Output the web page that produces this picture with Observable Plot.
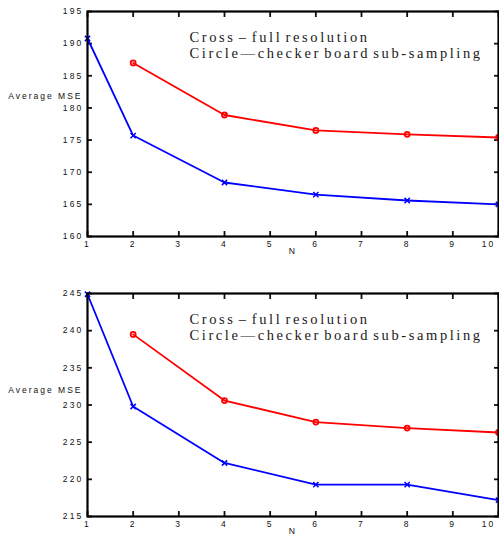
<!DOCTYPE html>
<html>
<head>
<meta charset="utf-8">
<script src="https://cdn.jsdelivr.net/npm/d3@7"></script>
<script src="https://cdn.jsdelivr.net/npm/@observablehq/plot@0.6"></script>
<style>
  html, body { margin: 0; padding: 0; background: white; }
  #chart svg { display: block; }
</style>
</head>
<body>
<div id="chart"></div>
<script>
// Data
const nCross = [1, 2, 4, 6, 8, 10];
const nCircle = [2, 4, 6, 8, 10];
const topCross = [190.8, 175.7, 168.4, 166.5, 165.6, 165.0];
const topCircle = [187.0, 178.9, 176.5, 175.9, 175.4];
const botCross = [244.9, 229.8, 222.2, 219.3, 219.3, 217.2];
const botCircle = [239.5, 230.6, 227.7, 226.9, 226.3];
const xTicks = [1, 2, 3, 4, 5, 6, 7, 8, 9, 10];
const topYTicks = [160, 165, 170, 175, 180, 185, 190, 195];
const botYTicks = [215, 220, 225, 230, 235, 240, 245];
const legendLines = ["Cross \u2013 full resolution", "Circle\u2014checker board sub-sampling"];
const yLabel = "Average MSE";
const xLabel = "N";

function panel({height, marginTop, marginBottom, yDomain, yTicks, cross, circle, yLabelDy}) {
  const crossData = nCross.map((n, i) => ({n, v: cross[i]}));
  const circleData = nCircle.map((n, i) => ({n, v: circle[i]}));
  const legendFont = {fontFamily: "Liberation Serif, Times New Roman, serif", fontSize: 14.5, fill: "#1a1a1a", textAnchor: "start", lineAnchor: "middle", frameAnchor: "top-left", className: "legend-text"};
  const svg = Plot.plot({
    width: 499, height, marginLeft: 87, marginRight: 1, marginTop, marginBottom,
    style: {fontFamily: "Liberation Sans, Arial, sans-serif", fontSize: "8.5px", background: "white", color: "#111", overflow: "visible"},
    x: {domain: [1, 10]},
    y: {domain: yDomain},
    marks: [
      Plot.axisX({ticks: xTicks, tickSize: -5, tickPadding: 9, label: null, tickFormat: d => String(d), strokeWidth: 1.8}),
      Plot.axisX({anchor: "top", ticks: xTicks, tickSize: -5, text: null, label: null, strokeWidth: 1.8}),
      Plot.axisY({ticks: yTicks, tickSize: -5, tickPadding: 9, label: null, tickFormat: d => String(d), strokeWidth: 1.8}),
      Plot.axisY({anchor: "right", ticks: yTicks, tickSize: -5, text: null, label: null, strokeWidth: 1.8}),
      Plot.line(circleData, {x: "n", y: "v", stroke: "#ff0000", strokeWidth: 1.8}),
      Plot.dot(circleData, {x: "n", y: "v", stroke: "#ff0000", r: 2.5, strokeWidth: 1.8}),
      Plot.line(crossData, {x: "n", y: "v", stroke: "#0000ff", strokeWidth: 1.8}),
      Plot.dot(crossData, {x: "n", y: "v", stroke: "#0000ff", symbol: "times", r: 2.5, strokeWidth: 1.5}),
      Plot.frame({stroke: "black", strokeWidth: 2.2}),
      Plot.text([legendLines[0]], {...legendFont, dx: 102, dy: 26}),
      Plot.text([legendLines[1]], {...legendFont, dx: 102, dy: 42}),
      Plot.text([yLabel], {frameAnchor: "left", textAnchor: "end", dx: -5, dy: yLabelDy, fill: "#111", fontSize: 8.5, className: "ylab"}),
      Plot.text([xLabel], {frameAnchor: "bottom", dy: 17, fill: "#111", fontSize: 8.5})
    ]
  });
  const s = d3.select(svg);
  s.selectAll("text").attr("letter-spacing", "2.2px");
  s.selectAll(".ylab text").attr("letter-spacing", "2px");
  s.selectAll(".legend-text text").attr("letter-spacing", "2.6px").attr("word-spacing", "-3px");
  // keep the last x tick label inside the frame, as in the reference
  s.selectAll('g[aria-label="x-axis tick label"] text')
    .filter(function() { return this.textContent === "10"; })
    .attr("text-anchor", "end").attr("dx", -3);
  return svg;
}

const chart = document.getElementById("chart");
chart.appendChild(panel({height: 265, marginTop: 11, marginBottom: 29, yDomain: [160, 195], yTicks: topYTicks, cross: topCross, circle: topCircle, yLabelDy: -28}));
chart.appendChild(panel({height: 270, marginTop: 28, marginBottom: 19, yDomain: [215, 245], yTicks: botYTicks, cross: botCross, circle: botCircle, yLabelDy: -15}));
</script>
</body>
</html>
